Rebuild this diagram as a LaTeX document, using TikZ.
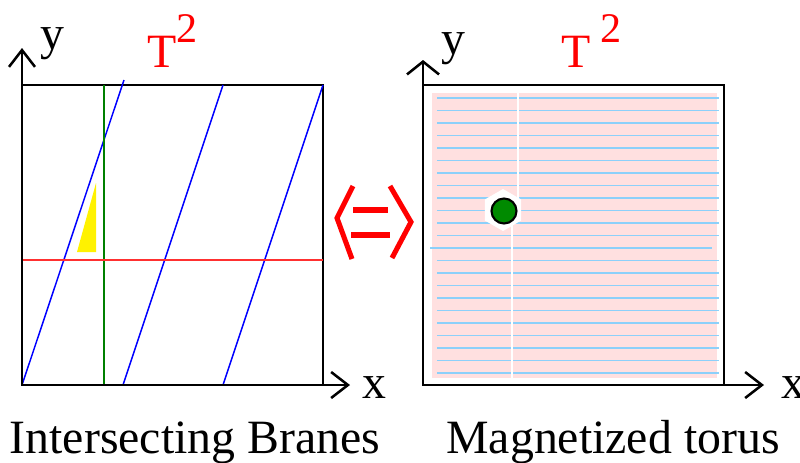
\documentclass[tikz,border=0pt]{standalone}
\usepackage{fontspec}
\setmainfont{Liberation Serif}
\usetikzlibrary{arrows.meta}
\definecolor{torusPink}{HTML}{FFE0E0}
\definecolor{fluxBlue}{HTML}{8CD0FA}
\definecolor{braneBlue}{HTML}{0000FF}
\definecolor{braneGreen}{HTML}{008000}
\definecolor{braneRed}{HTML}{FF3030}
\definecolor{equivRed}{HTML}{FF0000}
\definecolor{dotGreen}{HTML}{008A00}

\tikzset{
  torusframe/.style={line width=2.1pt},
  axisline/.style={line width=1.8pt,-{Straight Barb[length=0.42cm,width=0.65cm]}},
  flataxis/.style={line width=1.8pt,-{Straight Barb[length=0.32cm,width=0.8cm]}},
  brane/.style={line width=1.05pt},
  bigtext/.style={font=\fontsize{34}{40}\selectfont,inner sep=0pt},
}
\newcommand{\torusname}[1]{T#1\raisebox{17.5pt}{\fontsize{30}{36}\selectfont 2}}

\begin{document}
\begin{tikzpicture}[x=0.025cm,y=-0.025cm]
  \useasboundingbox (0,0) rectangle (800,462);

  % Left torus: intersecting branes
  \draw[torusframe] (22,85) rectangle (323,385);
  \coordinate (leftO) at (22,385);
  \draw[braneBlue,brane] (leftO) -- (124,80);
  \draw[braneBlue,brane] (123,385) -- (223,85);
  \draw[braneBlue,brane] (223,385) -- (323,85);
  \draw[braneGreen,brane] (104,85) -- (104,385);
  \draw[braneRed,brane] (22,260) -- (323,260);
  \fill[yellow] (77,252) -- (96,183) -- (96,252) -- cycle;
  \draw[axisline] (leftO) -- (22,48);
  \draw[axisline] (leftO) -- (350,385);
  \node[bigtext,anchor=base west] (leftY) at (40,49) {y};
  \node[bigtext,anchor=base west] (leftX) at (362,398) {x};
  \node[bigtext,anchor=base west,text=red] (leftT) at (147,67) {\torusname{}};

  % Equivalence sign
  \begin{scope}[equivRed,line width=3.6pt]
    \draw (353,186) -- (337,218) -- (352,259);
    \draw (390,186) -- (411,222) -- (392,258);
    \draw (353,210) -- (388,210);
    \draw (351,235) -- (390,235);
  \end{scope}

  % Right torus: magnetized
  \fill[torusPink] (432,93) rectangle (717,378);
  \foreach \k in {0,...,11,13,14,...,22}
    \draw[fluxBlue,line width=1.1pt] (437,98+12.5*\k) -- (719,98+12.5*\k);
  \draw[fluxBlue,line width=1.1pt] (430,248) -- (712,248);
  \draw[white,line width=2pt] (518,93) -- (518,205);
  \draw[white,line width=2pt] (512,216) -- (512,378);
  \fill[white] (503,210) +(90:21) -- +(150:21) -- +(210:21) -- +(270:21) -- +(330:21) -- +(30:21) -- cycle;
  \draw[fill=dotGreen,line width=1.5pt] (504,211) circle (12.5);
  \draw[torusframe] (423,85) rectangle (724,385);
  \coordinate (rightO) at (423,385);
  \draw[flataxis] (rightO) -- (423,60);
  \draw[axisline] (rightO) -- (764,385);
  \node[bigtext,anchor=base west] (rightY) at (441,54) {y};
  \node[bigtext,anchor=base west] (rightX) at (781,398) {x};
  \node[bigtext,anchor=base west,text=red] (rightT) at (561,67) {\torusname{\hspace{7pt}}};

  % Captions
  \node[bigtext,anchor=base] (leftCap) at (195,453) {Intersecting Branes};
  \node[bigtext,anchor=base] (rightCap) at (613,453) {Magnetized torus};
\end{tikzpicture}
\end{document}
